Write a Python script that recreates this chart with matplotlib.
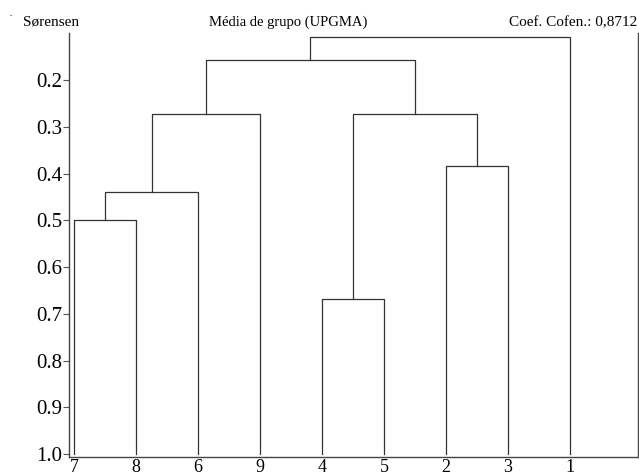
import matplotlib
matplotlib.use('Agg')
import matplotlib.pyplot as plt

# leaves in the order they are drawn, left to right
leaf_labels = ['7', '8', '6', '9', '4', '5', '2', '3', '1']
# merges like scipy linkage: (cluster a, cluster b, Sørensen distance)
# cluster ids 0..8 are leaves, 9.. are the merges in this order
merge_a = [0, 9, 10, 4, 6, 12, 11, 15]
merge_b = [1, 2, 3, 5, 7, 13, 14, 8]
merge_h = [0.500, 0.439, 0.273, 0.668, 0.383, 0.273, 0.157, 0.107]
yticks = [0.2, 0.3, 0.4, 0.5, 0.6, 0.7, 0.8, 0.9, 1.0]

plt.rcParams['font.family'] = ['Liberation Serif', 'DejaVu Serif']

fig = plt.figure(figsize=(6.39, 4.76), dpi=100)
ax = fig.add_axes([0.1085, 0.0405, 0.89, 0.890])

# x position and height of every cluster
pos = [float(i) for i in range(len(leaf_labels))]
hgt = [1.0] * len(leaf_labels)
for a, b, h in zip(merge_a, merge_b, merge_h):
    xa, xb = pos[a], pos[b]
    ax.plot([xa, xa, xb, xb], [hgt[a], h, h, hgt[b]], color='#333333', lw=0.9)
    pos.append((xa + xb) / 2)
    hgt.append(h)

ax.set_xlim(-0.076, 9.097)
ax.set_ylim(1.0058, 0.0995)

ax.set_yticks(yticks)
ax.set_yticklabels(['%.1f' % v for v in yticks], fontsize=15)
ax.tick_params(axis='y', direction='out', length=4, width=0.8, pad=1, color='#555555')
ax.set_xticks(range(len(leaf_labels)))
# labels sit right under the axis, as low as fits in the figure
ax.set_xticklabels(leaf_labels, fontsize=13)
ax.tick_params(axis='x', length=0, pad=2)

ax.spines['top'].set_visible(False)
for s in ['left', 'bottom', 'right']:
    ax.spines[s].set_color('#444444')
    ax.spines[s].set_linewidth(1.0)

fig.text(23 / 639, 1 - 26 / 476, 'Sørensen', fontsize=11, ha='left', va='baseline')
fig.text(288 / 639, 1 - 26 / 476, 'Média de grupo (UPGMA)', fontsize=10.5, ha='center', va='baseline')
fig.text(637 / 639, 1 - 26 / 476, 'Coef. Cofen.: 0,8712', fontsize=11, ha='right', va='baseline')
fig.text(11 / 639, 1 - 17 / 476, '-', fontsize=5, ha='center', va='baseline')

fig.savefig('out.png', dpi=100)
